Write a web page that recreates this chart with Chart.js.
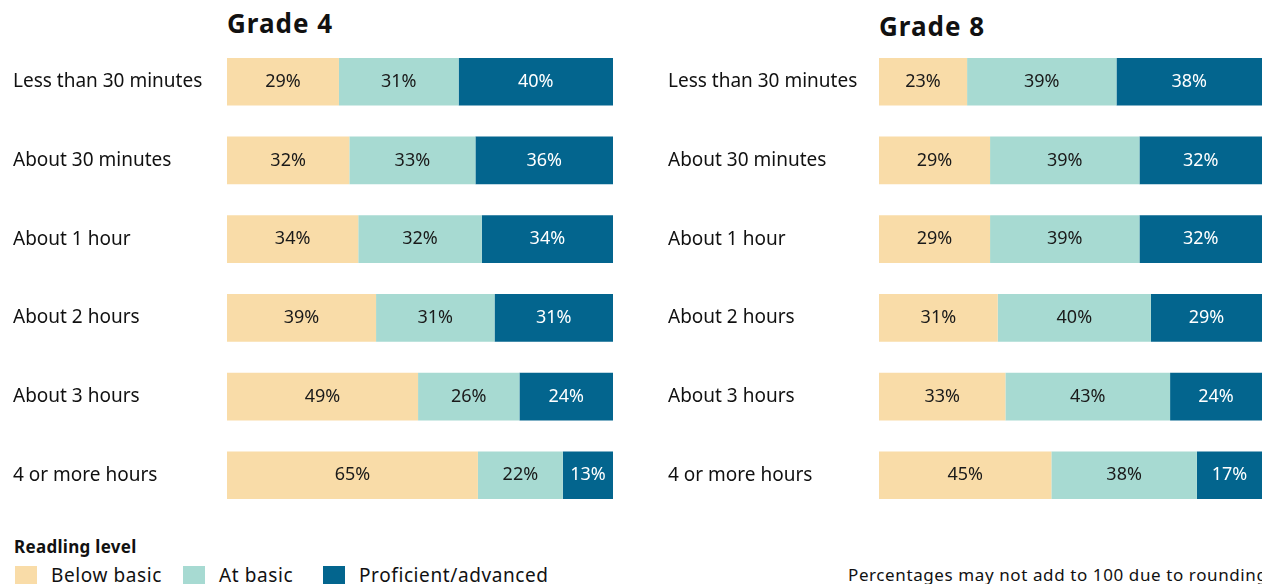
<!DOCTYPE html>
<html>
<head>
<meta charset="utf-8">
<script src="https://cdn.jsdelivr.net/npm/chart.js@4.4.0/dist/chart.umd.min.js"></script>
<style>
  body { margin: 0; width: 1262px; height: 584px; overflow: hidden; background: #fff; font-family: "Noto Sans", sans-serif; color: #111; }
  .box { position: absolute; }
  .title { position: absolute; font-weight: 700; font-size: 26px; letter-spacing: 1px; }
  .legTitle { position: absolute; left: 14px; top: 535px; font-weight: 700; font-size: 17px; letter-spacing: 0.3px; }
  .sw { position: absolute; top: 566px; width: 22px; height: 22px; }
  .lt { position: absolute; top: 562px; font-size: 19px; letter-spacing: 0.6px; white-space: nowrap; }
  .note { position: absolute; left: 848px; top: 563px; font-size: 17px; letter-spacing: 0.6px; white-space: nowrap; }
</style>
</head>
<body>
<div class="title" style="left:227px;top:5px;">Grade 4</div>
<div class="title" style="left:879px;top:8px;">Grade 8</div>
<div class="box" style="left:13px;top:28px;width:600px;height:501px;"><canvas id="g4"></canvas></div>
<div class="box" style="left:668px;top:28px;width:594px;height:501px;"><canvas id="g8"></canvas></div>

<div class="legTitle">Readling level</div>
<div class="sw" style="left:15px;background:#F9DCA8;"></div>
<div class="lt" style="left:51px;">Below basic</div>
<div class="sw" style="left:183px;background:#A7DAD2;"></div>
<div class="lt" style="left:219px;">At basic</div>
<div class="sw" style="left:323px;background:#03658E;"></div>
<div class="lt" style="left:359px;">Proficient/advanced</div>
<div class="note">Percentages may not add to 100 due to rounding</div>

<script>
// categories and values (percent of students)
const categories = ["Less than 30 minutes", "About 30 minutes", "About 1 hour", "About 2 hours", "About 3 hours", "4 or more hours"];
const seriesNames = ["Below basic", "At basic", "Proficient/advanced"];
const colors = ["#F9DCA8", "#A7DAD2", "#03658E"];
const labelColors = ["#1a1a1a", "#1a1a1a", "#ffffff"];

const g4Below = [29, 32, 34, 39, 49, 65];
const g4Basic = [31, 33, 32, 31, 26, 22];
const g4Prof = [40, 36, 34, 31, 24, 13];

const g8Below = [23, 29, 29, 31, 33, 45];
const g8Basic = [39, 39, 39, 40, 43, 38];
const g8Prof = [38, 32, 32, 29, 24, 17];

// bars are drawn as share of row total so each bar fills the width
function makeDatasets(series) {
  const totals = categories.map((c, i) => series.reduce((s, arr) => s + arr[i], 0));
  return series.map((arr, k) => ({
    label: seriesNames[k],
    raw: arr,
    data: arr.map((v, i) => v / totals[i] * 100),
    backgroundColor: colors[k],
    borderWidth: 0,
    barPercentage: 1,
    categoryPercentage: 0.606,
  }));
}

// draws the printed value in the middle of each segment
const barLabels = {
  id: "barLabels",
  afterDatasetsDraw(chart) {
    const ctx = chart.ctx;
    ctx.save();
    ctx.font = "18px 'Noto Sans'";
    ctx.textAlign = "center";
    ctx.textBaseline = "middle";
    chart.data.datasets.forEach((ds, k) => {
      chart.getDatasetMeta(k).data.forEach((bar, i) => {
        const x = (bar.x + bar.base) / 2;
        ctx.fillStyle = labelColors[k];
        ctx.fillText(ds.raw[i] + "%", x, bar.y);
      });
    });
    ctx.restore();
  },
};

function makeChart(id, series, axisWidth) {
  new Chart(document.getElementById(id), {
    type: "bar",
    data: { labels: categories, datasets: makeDatasets(series) },
    options: {
      indexAxis: "y",
      responsive: true,
      maintainAspectRatio: false,
      animation: false,
      layout: { padding: 0 },
      plugins: { legend: { display: false }, tooltip: { enabled: false } },
      scales: {
        x: { stacked: true, min: 0, max: 100, display: false },
        y: {
          stacked: true,
          grid: { display: false, drawTicks: false },
          border: { display: false },
          ticks: {
            crossAlign: "far",
            color: "#111",
            font: { size: 19, family: "'Noto Sans'" },
          },
          afterFit(scale) { scale.width = axisWidth; },
        },
      },
    },
    plugins: [barLabels],
  });
}

makeChart("g4", [g4Below, g4Basic, g4Prof], 214);
makeChart("g8", [g8Below, g8Basic, g8Prof], 211);
</script>
</body>
</html>
